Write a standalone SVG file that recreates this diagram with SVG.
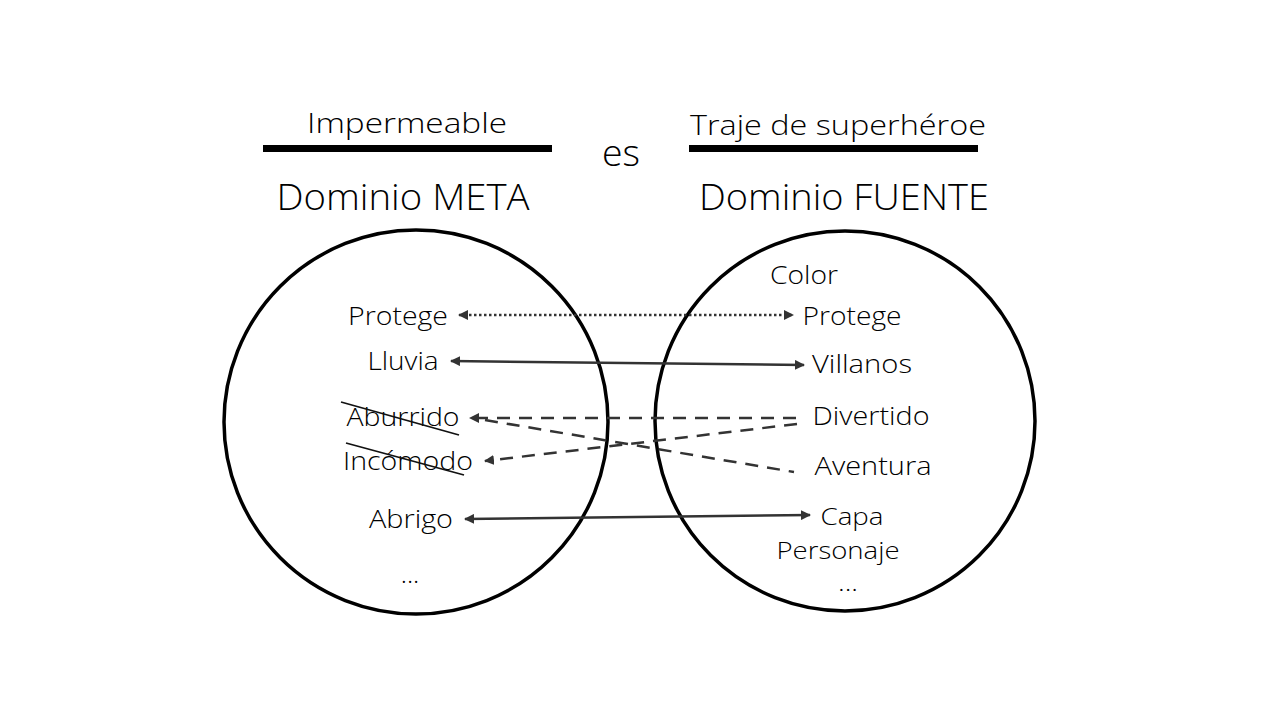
<svg xmlns="http://www.w3.org/2000/svg" width="1280" height="720" viewBox="0 0 1280 720">
<defs>
<marker id="ah" viewBox="0 0 10 10" refX="9" refY="5" markerWidth="4" markerHeight="4" orient="auto-start-reverse" markerUnits="strokeWidth">
<path d="M0,0 L10,5 L0,10 z" fill="#333"/>
</marker>
<style>
text{font-family:"Open Sans","Liberation Sans",sans-serif;font-weight:300;fill:#000}
.t{font-size:26px}
.s{font-size:24px}
.h{font-size:28px}
.b{font-size:36px}
.c{fill:none;stroke:#000;stroke-width:3.5}
.bar{fill:#000}
.ln{fill:none;stroke:#333;stroke-width:2.5}
.dot{stroke-dasharray:2.5 2.5}
.dash{stroke-dasharray:13 9}
.st{stroke:#111;stroke-width:1.8}
</style>
</defs>
<rect width="1280" height="720" fill="#fff"/>
<g id="header">
<text class="h" x="407" y="133" text-anchor="middle" textLength="200" lengthAdjust="spacingAndGlyphs">Impermeable</text>
<rect class="bar" x="263" y="145" width="289" height="7"/>
<text class="h" x="838" y="135" text-anchor="middle" textLength="296" lengthAdjust="spacingAndGlyphs">Traje de superhéroe</text>
<rect class="bar" x="689" y="145" width="289" height="7"/>
<text class="b" x="621" y="166" text-anchor="middle" textLength="38" lengthAdjust="spacingAndGlyphs">es</text>
<text class="b" x="403" y="210" text-anchor="middle" textLength="253" lengthAdjust="spacingAndGlyphs">Dominio META</text>
<text class="b" x="844" y="210" text-anchor="middle" textLength="290" lengthAdjust="spacingAndGlyphs">Dominio FUENTE</text>
</g>
<g id="meta">
<circle class="c" cx="416" cy="422" r="192"/>
<text class="t" x="398" y="325" text-anchor="middle" textLength="100" lengthAdjust="spacingAndGlyphs">Protege</text>
<text class="t" x="403" y="370" text-anchor="middle" textLength="71" lengthAdjust="spacingAndGlyphs">Lluvia</text>
<text class="t" x="403" y="426" text-anchor="middle" textLength="113" lengthAdjust="spacingAndGlyphs">Aburrido</text>
<line class="st" x1="341" y1="402" x2="459" y2="435"/>
<text class="t" x="408" y="470" text-anchor="middle" textLength="130" lengthAdjust="spacingAndGlyphs">Incómodo</text>
<line class="st" x1="346" y1="443" x2="464" y2="475"/>
<text class="t" x="411" y="528" text-anchor="middle" textLength="84" lengthAdjust="spacingAndGlyphs">Abrigo</text>
<text class="t" x="410" y="583" text-anchor="middle">...</text>
</g>
<g id="fuente">
<circle class="c" cx="845" cy="421" r="190"/>
<text class="t" x="804" y="284" text-anchor="middle" textLength="68" lengthAdjust="spacingAndGlyphs">Color</text>
<text class="t" x="852" y="325" text-anchor="middle" textLength="99" lengthAdjust="spacingAndGlyphs">Protege</text>
<text class="t" x="862" y="373" text-anchor="middle" textLength="100" lengthAdjust="spacingAndGlyphs">Villanos</text>
<text class="t" x="871" y="425" text-anchor="middle" textLength="117" lengthAdjust="spacingAndGlyphs">Divertido</text>
<text class="t" x="873" y="475" text-anchor="middle" textLength="117" lengthAdjust="spacingAndGlyphs">Aventura</text>
<text class="s" x="852" y="525" text-anchor="middle" textLength="63" lengthAdjust="spacingAndGlyphs">Capa</text>
<text class="s" x="838" y="559" text-anchor="middle" textLength="123" lengthAdjust="spacingAndGlyphs">Personaje</text>
<text class="s" x="848" y="591" text-anchor="middle" font-size="18" textLength="20" lengthAdjust="spacingAndGlyphs">...</text>
</g>
<g id="connectors">
<line class="ln dot" x1="459" y1="315" x2="793" y2="315" marker-start="url(#ah)" marker-end="url(#ah)"/>
<line class="ln" x1="451" y1="361" x2="804" y2="365" marker-start="url(#ah)" marker-end="url(#ah)"/>
<line class="ln dash" x1="796" y1="418" x2="470" y2="418" marker-end="url(#ah)"/>
<line class="ln dash" x1="797" y1="424" x2="485" y2="461" marker-end="url(#ah)"/>
<line class="ln dash" x1="485" y1="420" x2="794" y2="472"/>
<line class="ln" x1="465" y1="519" x2="810" y2="515" marker-start="url(#ah)" marker-end="url(#ah)"/>
</g>
</svg>
